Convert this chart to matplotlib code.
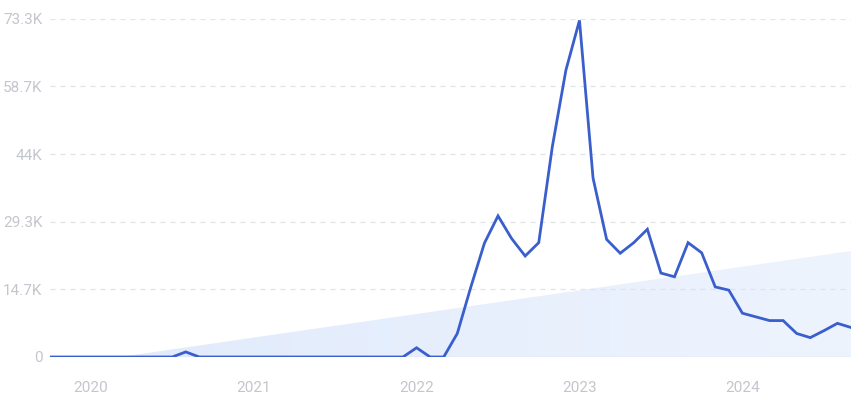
import matplotlib
matplotlib.use("Agg")
import matplotlib.pyplot as plt
import numpy as np
from matplotlib.patches import Polygon
from matplotlib.colors import LinearSegmentedColormap

# Monthly values (thousands), 2019-10 .. 2024-09
months = [f"{y}-{m:02d}" for y in range(2019, 2025) for m in range(1, 13)]
months = months[9:9 + 60]
values = [
    0, 0, 0,                                  # 2019 Oct-Dec
    0, 0, 0, 0, 0, 0, 0, 1.1, 0, 0, 0, 0,     # 2020
    0, 0, 0, 0, 0, 0, 0, 0, 0, 0, 0, 0,       # 2021
    2.0, 0, 0, 5.1, 15.2, 24.7, 30.6, 25.7, 21.9, 24.8, 45.6, 62.2,  # 2022
    73.0, 38.8, 25.5, 22.5, 24.8, 27.7, 18.2, 17.4, 24.8, 22.6, 15.2, 14.5,  # 2023
    9.5, 8.7, 7.9, 7.9, 5.1, 4.2, 5.7, 7.3, 6.4,  # 2024 Jan-Sep
]
# Trend line (thousands) at first and last month, clipped at zero
trend_start = -2.2
trend_end = 23.0

year_labels = ["2020", "2021", "2022", "2023", "2024"]
ytick_vals = [0, 14.7, 29.3, 44, 58.7, 73.3]
ytick_labels = ["0", "14.7K", "29.3K", "44K", "58.7K", "73.3K"]

plt.rcParams['font.family'] = ['Roboto', 'DejaVu Sans']

fig = plt.figure(figsize=(8.58, 4.01), dpi=100)
ax = fig.add_axes([50 / 858, 44 / 401, 801 / 858, 338 / 401])

n = len(values)
x = np.arange(n)

# trend area with gradient
xt = np.linspace(0, n - 1, 400)
yt = np.clip(trend_start + (trend_end - trend_start) * xt / (n - 1), 0, None)
verts = np.column_stack([np.r_[xt, xt[::-1]], np.r_[yt, np.zeros_like(yt)]])
poly = Polygon(verts, closed=True, facecolor='none', edgecolor='none')
ax.add_patch(poly)
cmap = LinearSegmentedColormap.from_list('g', ['#e0eafb', '#eef4fe'])
grad = np.linspace(0, 1, 256).reshape(1, -1)
im = ax.imshow(grad, cmap=cmap, aspect='auto', extent=[0, n - 1, 0, 73.3],
               origin='lower', zorder=1)
im.set_clip_path(poly)

# gridlines
for v in ytick_vals[1:]:
    ax.axhline(v, color='#dfe2e6', lw=0.9, ls=(0, (4, 4)), zorder=2)
ax.axhline(0, color='#dde3ea', lw=1.0, zorder=2)

ax.plot(x, values, color='#3a5fcd', lw=2.0, zorder=3, solid_joinstyle='miter')

ax.set_xlim(0, n - 1)
ax.set_ylim(0, 73.3)
year_pos = [months.index(f"{y}-01") for y in year_labels]
ax.set_xticks(year_pos)
ax.set_xticklabels(year_labels)
ax.set_yticks(ytick_vals)
ax.set_yticklabels(ytick_labels)
ax.tick_params(axis='both', length=0, colors='#c3c6cc', labelsize=11)
ax.tick_params(axis='x', pad=17)
ax.tick_params(axis='y', pad=5.5)
for s in ax.spines.values():
    s.set_visible(False)

fig.savefig('out.png', dpi=100)
